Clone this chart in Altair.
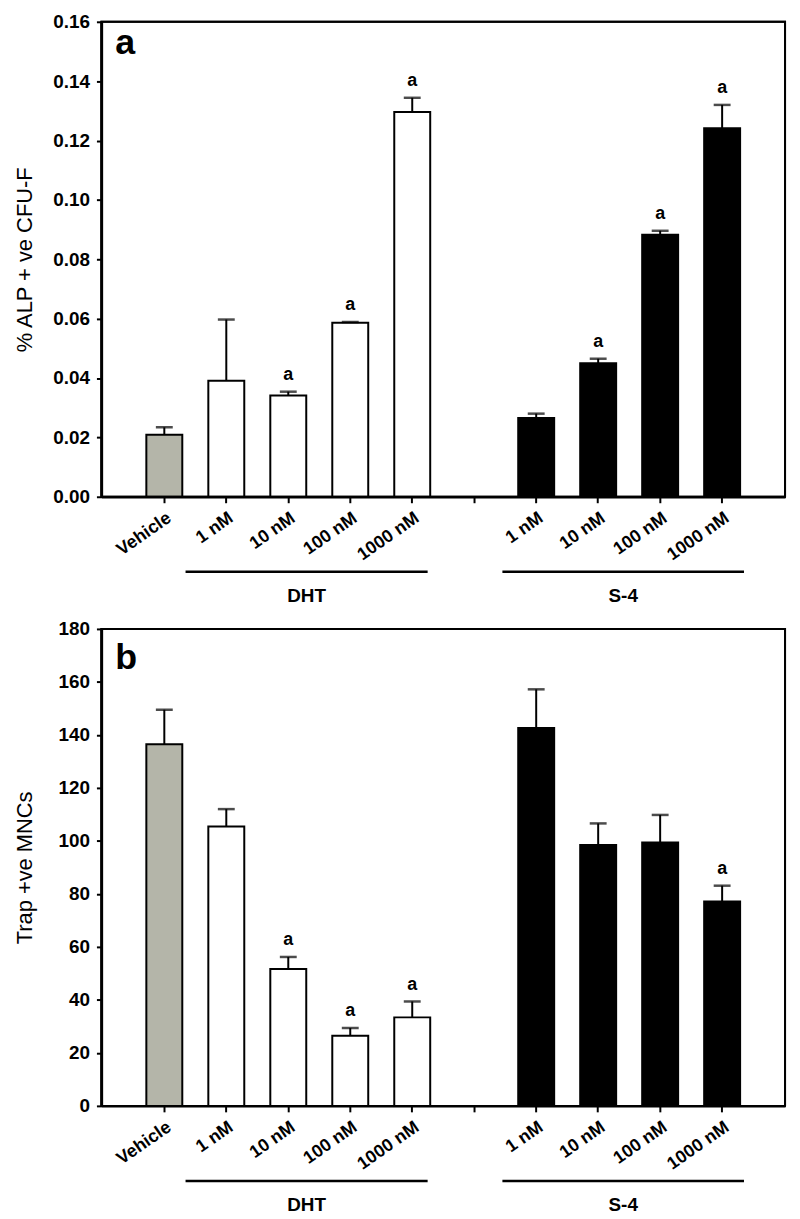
import altair as alt
import pandas as pd

# ---------------- data ----------------
keys = ["|Vehicle", "DHT|1 nM", "DHT|10 nM", "DHT|100 nM", "DHT|1000 nM", "gap|",
        "S-4|1 nM", "S-4|10 nM", "S-4|100 nM", "S-4|1000 nM"]
groups = ["Vehicle", "DHT", "DHT", "DHT", "DHT", None, "S-4", "S-4", "S-4", "S-4"]

alp_mean = [0.0209, 0.0391, 0.0341, 0.0586, 0.1296, None, 0.0265, 0.0450, 0.0883, 0.1241]
alp_upper = [0.0234, 0.0597, 0.0354, 0.0589, 0.1344, None, 0.0280, 0.0465, 0.0896, 0.1320]
alp_sig = ["", "", "a", "a", "a", "", "", "a", "a", "a"]

trap_mean = [136.5, 105.4, 51.7, 26.5, 33.4, None, 142.6, 98.5, 99.4, 77.1]
trap_upper = [149.5, 112.0, 56.2, 29.4, 39.4, None, 157.2, 106.6, 109.8, 83.1]
trap_sig = ["", "", "a", "a", "a", "", "", "", "", "a"]

alp_ticks = [0.00, 0.02, 0.04, 0.06, 0.08, 0.10, 0.12, 0.14, 0.16]
trap_ticks = [0, 20, 40, 60, 80, 100, 120, 140, 160, 180]

group_names = ["DHT", "S-4"]
group_first = ["DHT|1 nM", "S-4|1 nM"]
group_last = ["DHT|1000 nM", "S-4|1000 nM"]

fill_domain = ["Vehicle", "DHT", "S-4"]
fill_range = ["#b4b5a9", "#ffffff", "#000000"]

FONT = "Liberation Sans"
NARROW = "Liberation Sans Narrow, Liberation Sans"
W = 688
STEP = W / 11.03


def make_panel(mean, upper, sig, title, ticks, fmt, letter, letter_y, height):
    rows = [dict(key=k, group=g, mean=m, upper=u, sig=s)
            for k, g, m, u, s in zip(keys, groups, mean, upper, sig) if m is not None]
    df = pd.DataFrame(rows)
    xscale = alt.Scale(domain=keys, paddingInner=0.42, paddingOuter=0.725, align=0.5)
    yscale = alt.Scale(domain=[ticks[0], ticks[-1]], nice=False, zero=True)
    xaxis = alt.Axis(title=None, labelExpr="split(datum.label, '|')[1]", labelAngle=325,
                     labelFont=FONT, labelFontSize=18, labelFontWeight="bold", labelColor="black",
                     labelPadding=6, tickSize=6, tickWidth=2, tickColor="black",
                     domainColor="black", domainWidth=2.5, grid=False, labelLimit=300)
    yaxis = alt.Axis(title=title, values=ticks, format=fmt, grid=False,
                     labelFont=FONT, labelFontSize=19, labelFontWeight="bold", labelColor="black",
                     labelPadding=7, tickSize=5, tickWidth=2, tickColor="black",
                     domainColor="black", domainWidth=2.5,
                     titleFont=FONT, titleFontSize=22, titleFontWeight="normal", titleColor="black",
                     titlePadding=18, minExtent=47, maxExtent=47)
    X = lambda f: alt.X(f, scale=xscale, axis=xaxis, sort=keys)
    Y = lambda f: alt.Y(f, scale=yscale, axis=yaxis)
    base = alt.Chart(df)
    bars = base.mark_bar(stroke="black", strokeWidth=2).encode(
        x=X("key:N"),
        y=Y("mean:Q"),
        fill=alt.Fill("group:N", scale=alt.Scale(domain=fill_domain, range=fill_range), legend=None),
    )
    whisker = base.mark_rule(color="black", strokeWidth=2).encode(
        x=X("key:N"), y=Y("mean:Q"), y2="upper:Q")
    cap = base.mark_tick(color="black", size=17, thickness=2.5).encode(
        x=X("key:N"), y=Y("upper:Q"))
    sigtext = base.mark_text(font=NARROW, fontSize=18, fontWeight="bold", color="black",
                             baseline="middle", dy=-17).encode(
        x=X("key:N"), y=Y("upper:Q"), text="sig:N")
    letter_df = pd.DataFrame({"t": [letter]})
    letter_mark = alt.Chart(letter_df).mark_text(
        font=FONT, fontSize=36, fontWeight="bold", color="black", align="left",
        baseline="alphabetic").encode(x=alt.value(14), y=alt.value(letter_y), text="t:N")
    frame = alt.Chart(letter_df).mark_rect(fillOpacity=0, stroke="black", strokeWidth=2).encode(
        x=alt.value(0), x2=alt.value(W), y=alt.value(0), y2=alt.value(height))

    layers = [bars, whisker, cap, sigtext, letter_mark, frame]
    offsets = [(-41, 15.5), (-34, 22)]
    for name, first, last, (o1, o2) in zip(group_names, group_first, group_last, offsets):
        gdf = pd.DataFrame({"first": [first], "last": [last], "name": [name]})
        line = alt.Chart(gdf).mark_rule(color="black", strokeWidth=2.5, xOffset=o1, x2Offset=o2).encode(
            x=X("first:N"), x2="last:N", y=alt.value(height + 75.5))
        dx = (o1 + o2 + 3 * STEP) / 2
        lab = alt.Chart(gdf).mark_text(font=FONT, fontSize=19, fontWeight="bold", color="black",
                                       baseline="middle", align="center", dx=dx).encode(
            x=X("first:N"), y=alt.value(height + 100), text="name:N")
        layers += [line, lab]
    return alt.layer(*layers).properties(width=W, height=height)


panel_a = make_panel(alp_mean, alp_upper, alp_sig, "% ALP + ve CFU-F", alp_ticks, ".2f", "a", 32, 478)
panel_b = make_panel(trap_mean, trap_upper, trap_sig, "Trap +ve MNCs", trap_ticks, "d", "b", 40, 480)

chart = alt.vconcat(panel_a, panel_b, spacing=12).properties(
    padding={"left": 5, "top": 0, "right": 5, "bottom": 5},
    background="white",
).configure_view(stroke="black", strokeWidth=2)

chart.save("out.html", embed_options={"renderer": "svg", "actions": False})
